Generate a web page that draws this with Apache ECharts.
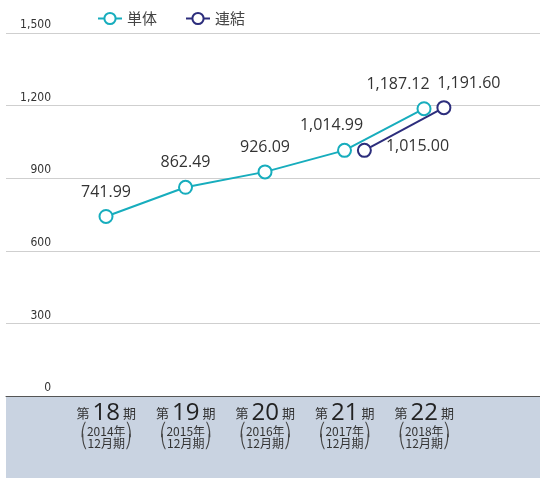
<!DOCTYPE html>
<html>
<head>
<meta charset="utf-8">
<script src="https://cdn.jsdelivr.net/npm/echarts@6/dist/echarts.min.js"></script>
<style>
html, body { margin: 0; padding: 0; background: #fff; }
#main { width: 540px; height: 478px; }
</style>
</head>
<body>
<div id="main"></div>
<script>
var periods = ['18', '19', '20', '21', '22'];
var years = ['2014', '2015', '2016', '2017', '2018'];
var tantai = [741.99, 862.49, 926.09, 1014.99, 1187.12];
// 連結 starts at the 21st period
var renketsu = [null, null, null, 1015.00, 1191.60];
var yTicks = [0, 300, 600, 900, 1200, 1500];

var fmt = function (v) {
    return v.toFixed(2).replace(/\B(?=(\d{3})+(?!\d))/g, ',');
};

var tantaiData = tantai.map(function (v, i) {
    var item = { value: [i, v] };
    if (i == 3) item.label = { offset: [-13, 0] };
    if (i == 4) item.label = { offset: [-26, 0] };
    return item;
});
var renketsuData = [];
renketsu.forEach(function (v, i) {
    if (v == null) return;
    var item = { value: [i + 0.25, v] };
    if (i == 3) item.label = { position: 'right', distance: 14, offset: [0, -4] };
    if (i == 4) item.label = { offset: [25, 0] };
    renketsuData.push(item);
});

var myChart = echarts.init(document.getElementById('main'));
var option = {
    animation: false,
    textStyle: { fontFamily: 'DejaVu Sans' },
    graphic: [{
        type: 'rect',
        shape: { x: 6, y: 397, width: 534, height: 81 },
        style: { fill: '#c9d3e1' },
        z: -10
    }],
    legend: {
        left: 92,
        top: 6,
        itemWidth: 24,
        itemHeight: 14,
        itemGap: 28,
        textStyle: { fontSize: 15, color: '#444', fontFamily: 'Noto Sans CJK JP' },
        data: ['単体', '連結']
    },
    grid: [
        { left: 6, right: 0, top: 33, bottom: 82 },
        { left: 66.5, right: 76, top: 33, bottom: 82 }
    ],
    xAxis: [{
        type: 'value',
        gridIndex: 0,
        min: -1.258,
        max: 5.459,
        splitLine: { show: false },
        axisTick: { show: false },
        axisLabel: { show: false },
        axisLine: { show: true, onZero: false, lineStyle: { color: '#555', width: 1 } }
    }, {
        type: 'category',
        gridIndex: 1,
        data: periods,
        axisLine: { show: false },
        axisTick: { show: false },
        axisLabel: {
            margin: 5,
            interval: 0,
            formatter: function (p, i) {
                return '{s|第 }{b|' + p + '}{s| 期}\n{p|⎛}{t|' + years[i] + '年}{p|⎞}\n{p|⎝}{t|12月期}{p|⎠}';
            },
            rich: {
                s: { fontSize: 13, color: '#333', fontFamily: 'Noto Sans CJK JP', lineHeight: 24 },
                b: { fontSize: 24, color: '#222', fontFamily: 'Open Sans', lineHeight: 24 },
                t: { fontSize: 12, color: '#333', fontFamily: 'Noto Sans CJK JP', lineHeight: 12 },
                p: { fontSize: 13, color: '#444', fontFamily: 'DejaVu Sans', lineHeight: 12 }
            }
        }
    }],
    yAxis: [{
        type: 'value',
        gridIndex: 0,
        min: yTicks[0],
        max: yTicks[yTicks.length - 1],
        interval: 300,
        axisLine: { show: false },
        axisTick: { show: false },
        splitLine: { lineStyle: { color: '#cfcfcf', width: 1 } },
        axisLabel: {
            inside: true,
            margin: 45,
            align: 'right',
            verticalAlign: 'bottom',
            padding: [0, 0, 2, 0],
            fontSize: 12,
            color: '#333',
            fontFamily: 'DejaVu Sans Condensed',
            formatter: function (v) {
                return String(v).replace(/\B(?=(\d{3})+(?!\d))/g, ',');
            }
        }
    }, {
        type: 'value',
        gridIndex: 1,
        min: 0,
        max: 1500,
        show: false
    }],
    series: [{
        name: '単体',
        type: 'line',
        xAxisIndex: 0,
        yAxisIndex: 0,
        data: tantaiData,
        color: '#17adbd',
        symbol: 'emptyCircle',
        symbolSize: 13,
        lineStyle: { width: 2 },
        itemStyle: { borderWidth: 2 },
        label: {
            show: true,
            position: 'top',
            distance: 9,
            fontSize: 16,
            color: '#333',
            fontFamily: 'Open Sans',
            formatter: function (p) { return fmt(p.value[1]); }
        }
    }, {
        name: '連結',
        type: 'line',
        xAxisIndex: 0,
        yAxisIndex: 0,
        data: renketsuData,
        color: '#2c2d7c',
        symbol: 'emptyCircle',
        symbolSize: 13,
        lineStyle: { width: 2 },
        itemStyle: { borderWidth: 2 },
        label: {
            show: true,
            position: 'top',
            distance: 9,
            fontSize: 16,
            color: '#333',
            fontFamily: 'Open Sans',
            formatter: function (p) { return fmt(p.value[1]); }
        }
    }]
};
myChart.setOption(option);
</script>
</body>
</html>
